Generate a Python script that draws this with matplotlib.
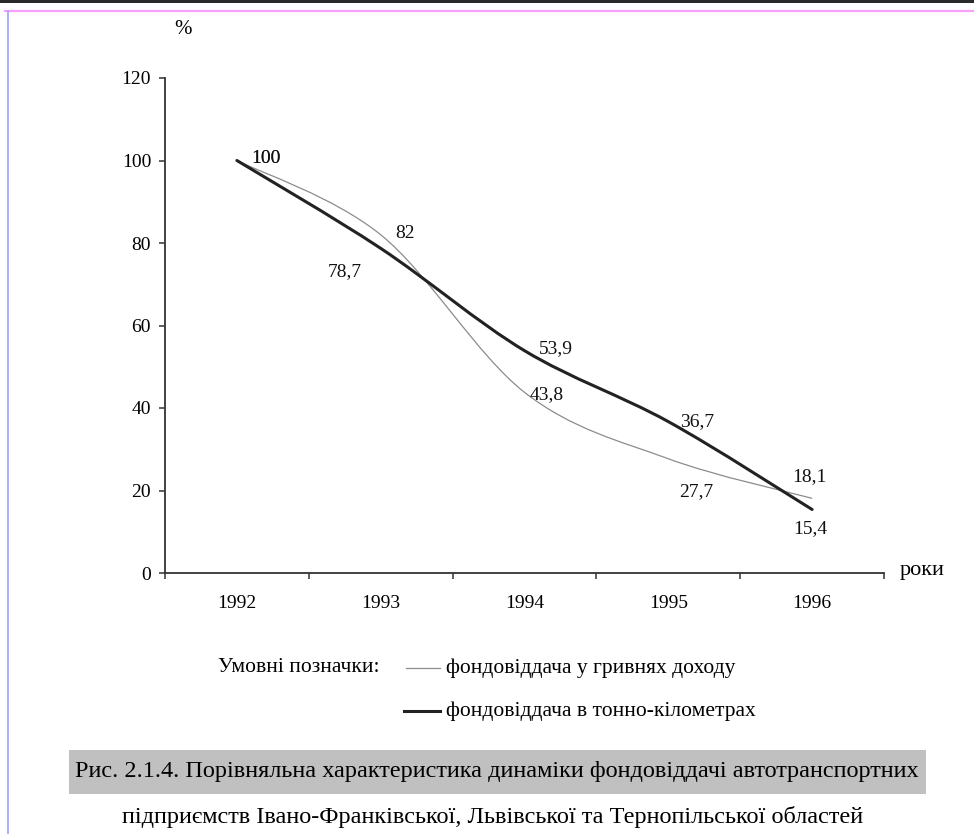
import matplotlib
matplotlib.use("Agg")
import matplotlib.pyplot as plt
import numpy as np
from matplotlib.path import Path
from matplotlib.patches import PathPatch, Rectangle
from matplotlib.lines import Line2D

years = ["1992", "1993", "1994", "1995", "1996"]
hryvnia = [100, 82, 43.8, 27.7, 18.1]        # фондовіддача у гривнях доходу
tonne_km = [100, 78.7, 53.9, 36.7, 15.4]     # фондовіддача в тонно-кілометрах

label_thin = "фондовіддача у гривнях доходу"
label_thick = "фондовіддача в тонно-кілометрах"

# label offsets in pixels (dx, dy)
off_thin = [(29, 2), (24, 1), (22, -2), (28, -33), (-3, 22)]
off_thick = [(29, 2), (-36, -23), (31, 2), (29, 0), (-2, -19)]

W, H = 974, 834
plt.rcParams['font.family'] = ['Liberation Serif', 'DejaVu Serif']


def fx(px):
    return px / W


def fy(py):
    return 1 - py / H


def smooth_path(xs, ys):
    # bezier curve through the points, like the "smoothed line" option
    pts = np.column_stack([xs, ys]).astype(float)
    n = len(pts)
    verts = [pts[0]]
    codes = [Path.MOVETO]
    for i in range(n - 1):
        p0 = pts[i - 1] if i > 0 else pts[i]
        p3 = pts[i + 2] if i + 2 < n else pts[i + 1]
        c1 = pts[i] + (pts[i + 1] - p0) / 6
        c2 = pts[i + 1] - (p3 - pts[i]) / 6
        verts += [c1, c2, pts[i + 1]]
        codes += [Path.CURVE4] * 3
    return Path(verts, codes)


fig = plt.figure(figsize=(W / 100, H / 100), dpi=100)
ax = fig.add_axes([fx(165), fy(573), (884 - 165) / W, (573 - 78) / H])

x = np.arange(len(years))
ax.add_patch(PathPatch(smooth_path(x, hryvnia), fill=False, edgecolor='#8c8c8c', lw=0.9))
ax.add_patch(PathPatch(smooth_path(x, tonne_km), fill=False, edgecolor='#222222', lw=2.2,
                       capstyle='round'))

for xi, v, (dx, dy) in zip(x, hryvnia, off_thin):
    ax.annotate(f"{v:g}".replace('.', ','), (xi, v), xytext=(dx, dy), textcoords='offset pixels',
                ha='center', va='center', fontsize=14, color='#111111')
for xi, v, (dx, dy) in zip(x, tonne_km, off_thick):
    ax.annotate(f"{v:g}".replace('.', ','), (xi, v), xytext=(dx, dy), textcoords='offset pixels',
                ha='center', va='center', fontsize=14, color='#111111')

ax.set_xlim(-0.5, len(years) - 0.5)
ax.set_ylim(0, 120)
ax.set_yticks(np.arange(0, 121, 20))
ax.set_xticks(np.arange(-0.5, len(years), 1))
ax.set_xticklabels([])
ax.set_xticks(x, minor=True)
ax.set_xticklabels(years, minor=True)
ax.tick_params(axis='x', which='minor', length=0, pad=16, labelsize=14)
ax.tick_params(axis='x', which='major', direction='out', length=4.5, width=1.1, color='#333333')
ax.tick_params(axis='y', direction='out', length=4, width=1.1, color='#333333', pad=6,
               labelsize=14)
for s in ['top', 'right']:
    ax.spines[s].set_visible(False)
for s in ['left', 'bottom']:
    ax.spines[s].set_color('#333333')
    ax.spines[s].set_linewidth(1.3)

fig.text(fx(183), fy(30), "%", ha='center', va='center', fontsize=15)
fig.text(fx(900), fy(571), "роки", ha='left', va='center', fontsize=16)

# legend, drawn by hand
fig.text(fx(218), fy(668), "Умовні позначки:", ha='left', va='center', fontsize=15.5)
fig.add_artist(Line2D([fx(406), fx(440)], [fy(668), fy(668)], color='#8c8c8c', lw=0.9))
fig.text(fx(446), fy(668), label_thin, ha='left', va='center', fontsize=15.5)
fig.add_artist(Line2D([fx(404), fx(440)], [fy(711), fy(711)], color='#222222', lw=2.2))
fig.text(fx(446), fy(711), label_thick, ha='left', va='center', fontsize=15.5)

# caption
fig.add_artist(Rectangle((fx(69), fy(794)), (926 - 69) / W, (794 - 750) / H,
                         transform=fig.transFigure, color='#c0c0c0', lw=0))
fig.text(fx(497), fy(772), "Рис. 2.1.4. Порівняльна характеристика динаміки фондовіддачі автотранспортних",
         ha='center', va='center', fontsize=17.5)
fig.text(fx(493), fy(817), "підприємств Івано-Франківської, Львівської та Тернопільської областей",
         ha='center', va='center', fontsize=17.5)

# page frame bits
fig.add_artist(Rectangle((0, fy(3)), 1, 3 / H, transform=fig.transFigure, color='#2a2a2a', lw=0))
fig.add_artist(Line2D([fx(5), 1], [fy(11), fy(11)], color='#f7a0f7', lw=1.6))
fig.add_artist(Line2D([fx(8), fx(8)], [fy(11), 0], color='#a0a0ff', lw=1.2))

fig.savefig("out.png", dpi=100)
